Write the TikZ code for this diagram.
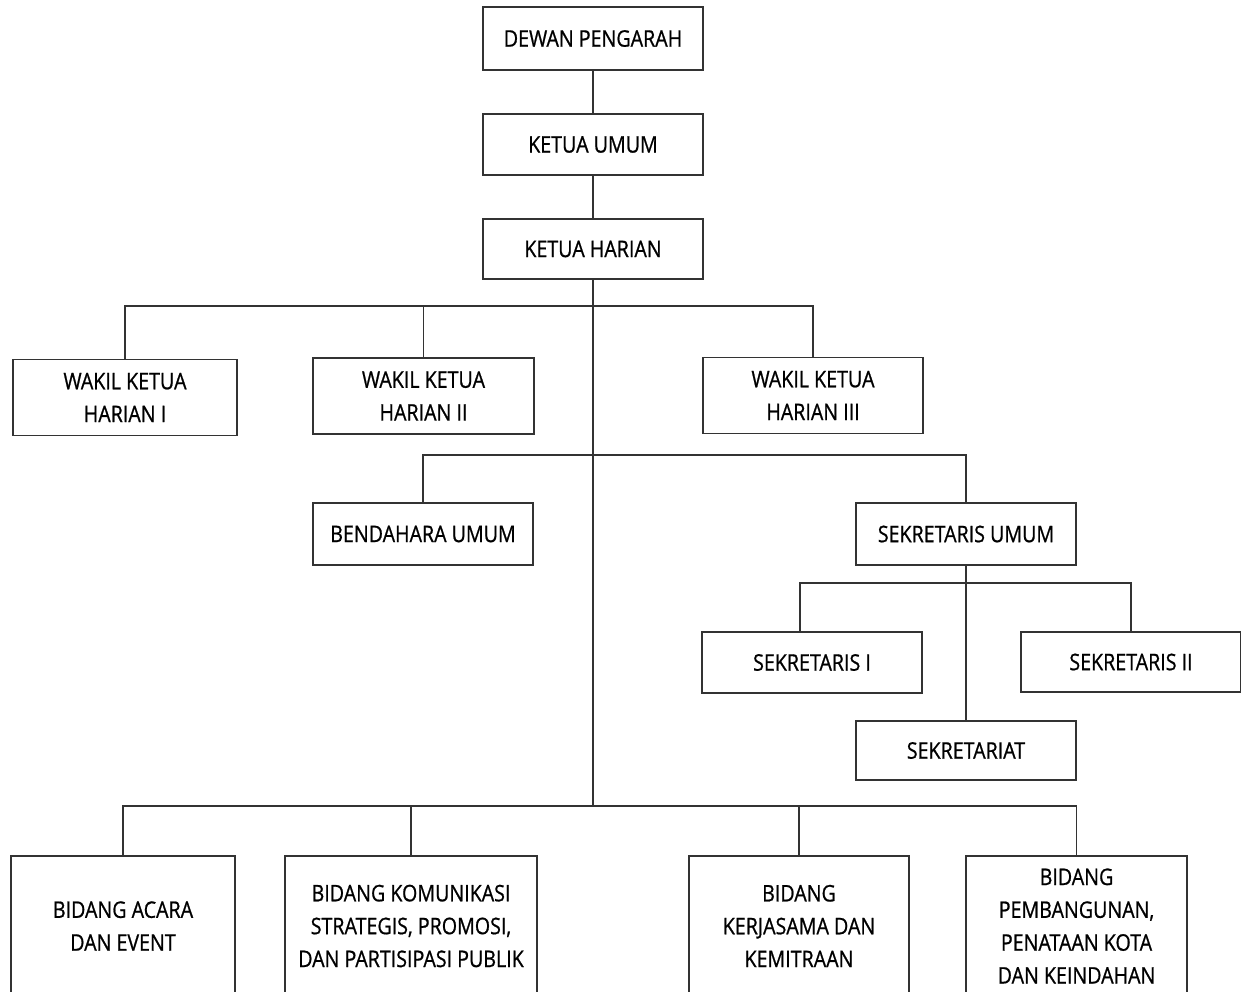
\documentclass[tikz,border=0pt]{standalone}
\usepackage{fontspec}
\setmainfont{Open Sans}[FakeStretch=0.86,FakeBold=0.8]
\usepackage{xcolor}
\tikzset{
  unit/.style={draw=black!80,line width=0.7pt,align=center,inner sep=0pt,
    font=\fontsize{13pt}{18.7pt}\selectfont,minimum width=220*0.02cm,minimum height=61*0.02cm},
  tall/.style={minimum height=76*0.02cm},
  field/.style={minimum height=140*0.02cm},
  link/.style={draw=black!80,line width=0.7pt}
}

\begin{document}
\begin{tikzpicture}[x=0.02cm,y=-0.02cm]
      \useasboundingbox (0,0) rectangle (1241,991);
      \clip (0,0) rectangle (1241,991);
      \node [unit,minimum height=63*0.02cm] (DP) at (593,38.5) {DEWAN PENGARAH};
      \node [unit] (KU) at (593,144.5) {KETUA UMUM};
      \node [unit,minimum height=60*0.02cm] (KH) at (593,249) {KETUA HARIAN};
      \node [unit,tall,minimum width=224*0.02cm] (W1) at (125,397.5) {WAKIL KETUA\\HARIAN I};
      \node [unit,tall,minimum width=221*0.02cm] (W2) at (423.5,396) {WAKIL KETUA\\HARIAN II};
      \node [unit,tall] (W3) at (813,395.5) {WAKIL KETUA\\HARIAN III};
      \node [unit,minimum height=62*0.02cm] (BU) at (423,534) {BENDAHARA UMUM};
      \node [unit,minimum height=62*0.02cm] (SU) at (966,534) {SEKRETARIS UMUM};
      \node [unit] (S1) at (812,662.5) {SEKRETARIS I};
      \node [unit,minimum height=60*0.02cm] (S2) at (1131,662) {SEKRETARIS II};
      \node [unit,minimum height=59*0.02cm] (SR) at (966,750.5) {SEKRETARIAT};
      \node [unit,field,minimum width=224*0.02cm] (B1) at (123,926) {BIDANG ACARA\\DAN EVENT};
      \node [unit,field,minimum width=252*0.02cm] (B2) at (411,926) {BIDANG KOMUNIKASI\\STRATEGIS, PROMOSI,\\DAN PARTISIPASI PUBLIK};
      \node [unit,field] (B3) at (799,926) {BIDANG\\KERJASAMA DAN\\KEMITRAAN};
      \node [unit,field,minimum width=221*0.02cm] (B4) at (1076.5,926) {BIDANG\\PEMBANGUNAN,\\PENATAAN KOTA\\DAN KEINDAHAN};
      \coordinate (J1) at (593,306);
      \coordinate (J2) at (593,455);
      \coordinate (J3) at (966,583);
      \coordinate (J4) at (593,806);
      \draw [link] (DP) -- (KU);
      \draw [link] (KU) -- (KH);
      \draw [link] (KH) -- (J4);
      \draw [link] (W1) |- (J1) -| (W3);
      \draw [link] (W2) -- (W2 |- J1);
      \draw [link] (BU) |- (J2) -| (SU);
      \draw [link] (SU) -- (SR);
      \draw [link] ([xshift=-12*0.02cm]S1.north) |- (J3) -| (S2);
      \draw [link] (B1) |- (J4) -| (B4);
      \draw [link] (B2) -- (B2 |- J4);
      \draw [link] (B3) -- (B3 |- J4);
    \end{tikzpicture}
\end{document}
